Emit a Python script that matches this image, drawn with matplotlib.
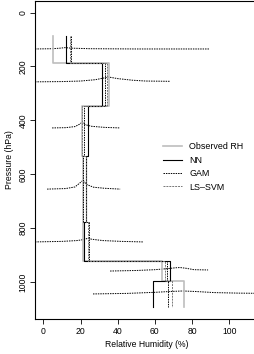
import numpy as np
import matplotlib.pyplot as plt

plt.rcParams['font.family'] = ['Liberation Sans', 'DejaVu Sans']

# layer boundaries (hPa) and layer values (RH %)
bounds = [87, 186, 345, 532, 778, 922, 996, 1093]
obs_rh = [5.4, 35.5, 21.0, 21.5, 21.2, 64.0, 75.5]
nn_rh = [12.0, 31.4, 24.2, 23.0, 22.0, 68.0, 58.8]
gam_rh = [15.0, 33.0, 21.6, 21.5, 24.7, 66.5, 67.0]
svm_rh = [14.5, 34.5, 21.0, 23.0, 24.0, 65.5, 69.0]

# GAM predictive curves: baseline pressure, RH points, bump height (hPa)
curve_p = [135, 257, 428, 655, 851, 959, 1044]
curve_x = [
    [-4.5, 5, 9, 11.7, 15, 25, 50, 89.6],
    [-4.5, 10, 20, 28, 33, 35, 40, 48, 55, 68],
    [4.7, 12, 17, 19.5, 20.8, 22.5, 26, 33, 41.3],
    [2, 12, 17, 19.5, 21.4, 23, 27, 33, 41.3],
    [-4.5, 10, 18, 22, 24, 26, 32, 42, 53.6],
    [35.9, 50, 60, 67, 71, 73.5, 77, 81, 88.6],
    [26.7, 45, 60, 68, 75, 82, 92, 105, 120],
]
curve_h = [
    [0, 1, 3, 5, 3, 1, 0, 0],
    [0, 1, 3, 8, 15, 18, 12, 6, 3, 2],
    [0, 1, 5, 14, 21, 12, 6, 2, 0],
    [0, 2, 8, 22, 33, 18, 7, 3, 0],
    [0, 2, 5, 9, 14, 10, 5, 2, 0],
    [0, 2, 5, 9, 12, 13, 10, 5, 4],
    [0, 2, 6, 9, 11, 9, 5, 3, 2],
]


def step_xy(b, v):
    x = np.repeat(v, 2)
    y = np.empty(2 * len(v))
    y[0::2] = b[:-1]
    y[1::2] = b[1:]
    return x, y


fig = plt.figure(figsize=(2.54, 3.54), dpi=100)
ax = fig.add_axes([35 / 254, 1 - 319 / 354, 224 / 254, 318 / 354])

for p, xs, hs in zip(curve_p, curve_x, curve_h):
    ax.plot(xs, p - np.array(hs), color='black', linestyle=(0, (1.5, 1)), linewidth=0.7)

x, y = step_xy(bounds, obs_rh)
ax.plot(x, y, color='#bebebe', linewidth=1.2, label='Observed RH')
x, y = step_xy(bounds, nn_rh)
ax.plot(x, y, color='black', linewidth=0.8, label='NN')
x, y = step_xy(bounds, gam_rh)
ax.plot(x, y, color='black', linestyle=(0, (1.5, 1)), linewidth=0.7, label='GAM')
x, y = step_xy(bounds, svm_rh)
ax.plot(x, y, color='#777777', linestyle=(0, (2, 1)), linewidth=0.7, label='LS\u2013SVM')

ax.set_xlim(-4.5, 116)
ax.set_ylim(1137, -43)
ax.set_xticks([0, 20, 40, 60, 80, 100])
ax.set_yticks([0, 200, 400, 600, 800, 1000])
for lab in ax.get_yticklabels():
    lab.set_rotation(90)
    lab.set_va('center')
ax.tick_params(labelsize=6.2, length=3.5, width=0.6, pad=2)
ax.set_xlabel('Relative Humidity (%)', fontsize=6.2, labelpad=3)
ax.set_ylabel('Pressure (hPa)', fontsize=6.2, labelpad=3)
for s in ax.spines.values():
    s.set_linewidth(0.8)

ax.legend(loc='upper left', bbox_to_anchor=(0.55, 0.57), frameon=False, fontsize=6.4,
          handlelength=2.2, handletextpad=0.8, labelspacing=0.5, borderpad=0)

fig.savefig('out.png', dpi=100)
